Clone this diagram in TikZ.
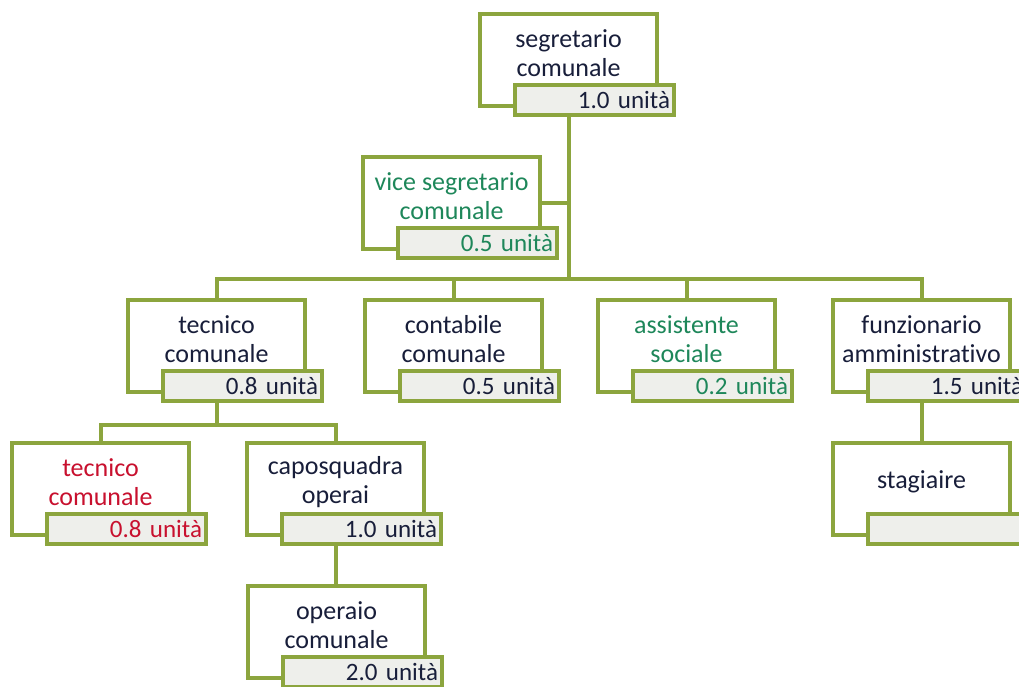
\documentclass[tikz,border=0pt]{standalone}
\usepackage{fontspec}
\setmainfont{Carlito}[Ligatures={NoCommon}]
\usetikzlibrary{backgrounds}
\definecolor{gborder}{RGB}{140,165,62}
\definecolor{navy}{RGB}{24,30,58}
\definecolor{tgreen}{RGB}{30,135,90}
\definecolor{tred}{RGB}{200,16,46}
\definecolor{ufill}{RGB}{238,239,235}
\newcommand\unitfont{\fontsize{25}{26}\selectfont\fontdimen2\font=0.17em\relax}
\tikzset{
 mainbox/.style={draw=gborder, line width=4pt, fill=white, minimum width=177pt, minimum height=92pt, anchor=north west, inner sep=0pt, outer sep=0pt},
 unitbox/.style={draw=gborder, line width=3.5pt, fill=ufill, minimum width=159pt, minimum height=30pt, anchor=north west, inner xsep=4pt, inner ysep=0pt, outer sep=0pt, text width=151pt, align=right, font=\unitfont},
 roletext/.style={align=center, font=\fontsize{26}{29.5}\selectfont, inner sep=0pt},
 link/.style={draw=gborder, line width=4pt}
}
\newcommand\orgunit[6]{%
 \node[mainbox] (#1) at (#2pt,-#3pt) {};
 \node[roletext, text=#6] (#1-t) at ([yshift=-39pt]#1.north) {#4};
 \node[unitbox, text=#6] (#1-u) at ([xshift=35pt,yshift=-71pt]#1.north west) {#5};
}
\begin{document}
\begin{tikzpicture}
\useasboundingbox (0,0) rectangle (1019pt,-686pt);
\clip (0,0) rectangle (1019pt,-686pt);
\orgunit{seg}{480}{14}{segretario\\comunale}{1.0 unità}{navy}
\orgunit{vice}{363}{157}{vice segretario\\comunale}{0.5 unità}{tgreen}
\orgunit{tec}{128}{300}{tecnico\\comunale}{0.8 unità}{navy}
\orgunit{cont}{365}{300}{contabile\\comunale}{0.5 unità}{navy}
\orgunit{ass}{598}{300}{assistente\\sociale}{0.2 unità}{tgreen}
\orgunit{funz}{833}{300}{funzionario\\amministrativo}{1.5 unità}{navy}
\orgunit{rtec}{12}{443}{tecnico\\comunale}{0.8 unità}{tred}
\orgunit{capo}{247}{443}{caposquadra\\operai}{1.0 unità}{navy}
\orgunit{stag}{833}{443}{stagiaire}{}{navy}
\orgunit{oper}{248}{586}{operaio\\comunale}{2.0 unità}{navy}
\coordinate (bar1) at (568.5pt,-279pt);
\coordinate (bar2) at (216.5pt,-425pt);
\begin{pgfonlayer}{background}
\draw[link] (seg.center) -- (bar1);
\draw[link] (vice.east) -- (vice.east -| seg.center);
\draw[link] (tec.north) |- (bar1) -| (funz.north);
\draw[link] (cont.north) -- (cont.north |- bar1);
\draw[link] (ass.north) -- (ass.north |- bar1);
\draw[link] (tec.center) -- (bar2);
\draw[link] (rtec.north) |- (bar2) -| (capo.north);
\draw[link] (capo.center) -- (capo.center |- oper.north);
\draw[link] (funz.center) -- (stag.north);
\end{pgfonlayer}
\end{tikzpicture}
\end{document}
